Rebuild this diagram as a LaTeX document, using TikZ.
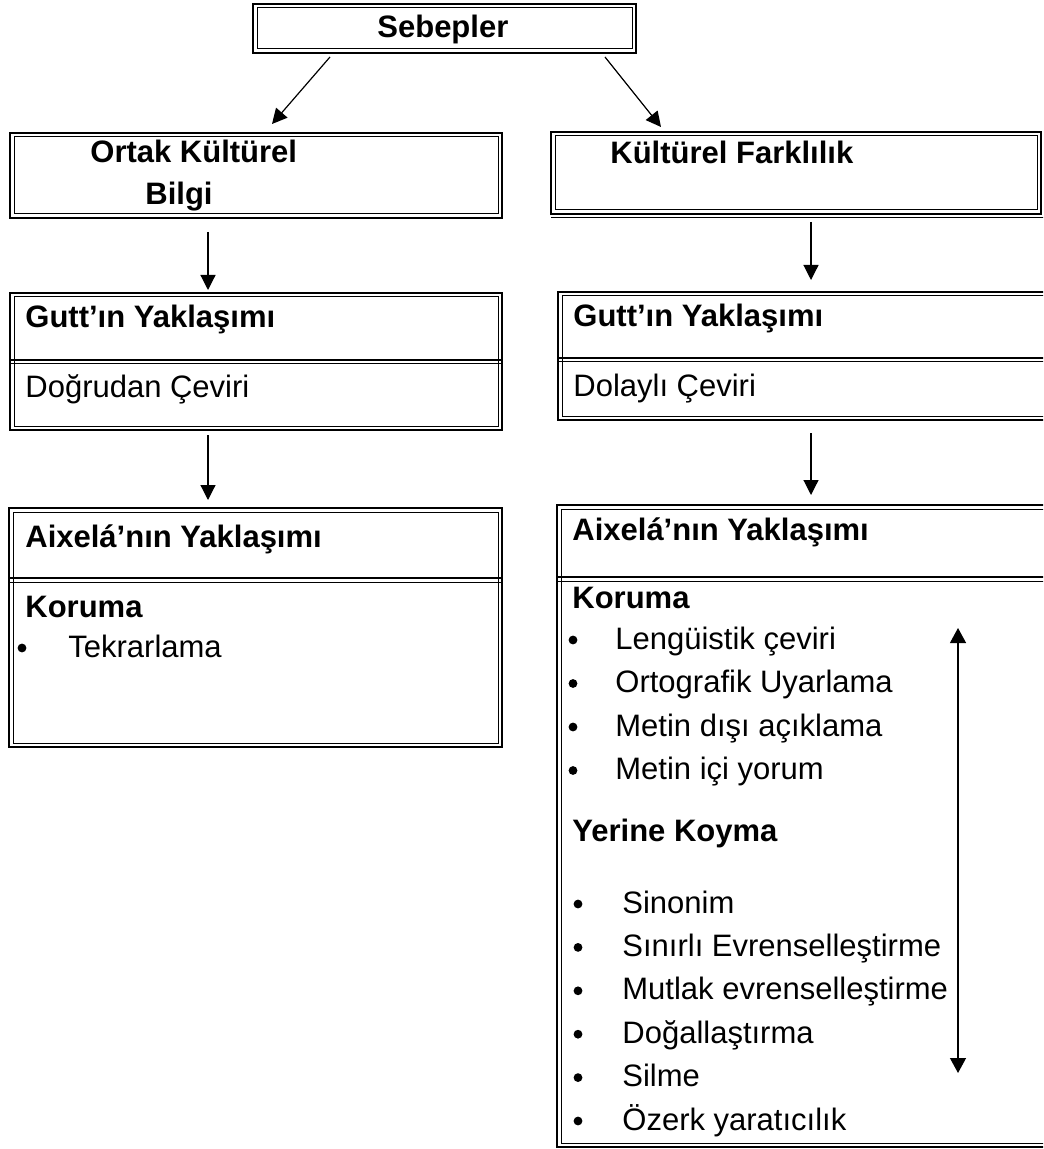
\documentclass[tikz,border=0pt]{standalone}
\usepackage{fontspec}
\setmainfont{Liberation Sans}
\usetikzlibrary{arrows.meta,fit}

\begin{document}
\begin{tikzpicture}[
  x=0.5pt, y=-0.5pt,
  frame/.style={draw, line width=1.2pt, inner sep=0pt, outer sep=0pt},
  thinrule/.style={line width=.5pt},
  head/.style={anchor=base west, inner sep=0pt, font=\fontsize{15.5}{18}\selectfont\bfseries},
  item/.style={anchor=base west, inner sep=0pt, font=\fontsize{15.5}{18}\selectfont},
  dot/.style={circle, fill, inner sep=0pt, minimum size=4.4pt},
  arrow/.style={-{Triangle[length=7.5pt, width=7.5pt]}, line width=.6pt},
  twoway/.style={{Triangle[length=7.5pt, width=8pt]}-{Triangle[length=7.5pt, width=8pt]}, line width=.6pt},
]
  \clip (0,0) rectangle (1043,1149);

  % boxes
  \node[frame, fit={(253,4) (636,53)}] (seb) {};
  \node[frame, fit={(10,133) (502,218)}] (ortak) {};
  \node[frame, fit={(551,132) (1041,214)}] (fark) {};
  \node[frame, fit={(10,293) (502,430)}] (guttL) {};
  \node[frame, fit={(558,292) (1052,420)}] (guttR) {};
  \node[frame, fit={(9,508) (502,747)}] (aixL) {};
  \node[frame, fit={(557,505) (1052,1147)}] (aixR) {};

  \foreach \n in {seb,ortak,fark,guttL,guttR,aixL,aixR}
    \draw[thinrule] ([shift={(2pt,-2pt)}]\n.north west) rectangle ([shift={(-2pt,2pt)}]\n.south east);
  \draw[thinrule] ([yshift=-2pt]fark.south west) -- ([shift={(5pt,-2pt)}]fark.south east);

  % dividers
  \foreach \n/\ya/\yb in {guttL/360/364, guttR/358/362, aixL/578/582, aixR/577/581} {
    \draw[line width=1.2pt] (\n.west |- 0,\ya) -- (\n.east |- 0,\ya);
    \draw[thinrule] (\n.west |- 0,\yb) -- (\n.east |- 0,\yb);
  }

  % texts
  \node[head] (sebT) at (377,38) {Sebepler};
  \node[head] (ortakT) at (90,163) {Ortak Kültürel};
  \node[head] (ortakB) at (145,205) {Bilgi};
  \node[head] (farkT) at (610,164) {Kültürel Farklılık};
  \node[head] (guttLT) at (25,328) {Gutt’ın Yaklaşımı};
  \node[item] (guttLB) at (25,398) {Doğrudan Çeviri};
  \node[head] (guttRT) at (573,327) {Gutt’ın Yaklaşımı};
  \node[item] (guttRB) at (573,397) {Dolaylı Çeviri};
  \node[head] (aixLT) at (25,547) {Aixelá’nın Yaklaşımı};
  \node[head] (korL) at (25,617) {Koruma};
  \node[dot] (tekB) at (22,648) {};
  \node[item] (tek) at (68,657) {Tekrarlama};
  \node[head] (aixRT) at (572,540) {Aixelá’nın Yaklaşımı};
  \node[head] (korR) at (572,608) {Koruma};
  \node[head] (yer) at (572,841) {Yerine Koyma};

  \foreach \t [count=\i] in {Lengüistik çeviri, Ortografik Uyarlama, Metin dışı açıklama, Metin içi yorum} {
    \node[item] (kor\i) at (615,{649+43.5*(\i-1)}) {\t};
    \node[dot] (korb\i) at (573,{640+43.5*(\i-1)}) {};
  }
  \foreach \t [count=\i] in {Sinonim, Sınırlı Evrenselleştirme, Mutlak evrenselleştirme, Doğallaştırma, Silme, Özerk yaratıcılık} {
    \node[item] (yer\i) at (622,{913+43.4*(\i-1)}) {\t};
    \node[dot] (yerb\i) at (578,{904+43.4*(\i-1)}) {};
  }

  % arrows
  \draw[arrow] ([xshift=-57.25pt,yshift=-2pt]seb.south) -- ([xshift=8pt,yshift=4.5pt]ortak.north);
  \draw[arrow] ([xshift=80.25pt,yshift=-2pt]seb.south) -- ([xshift=-67.5pt,yshift=2.5pt]fark.north);
  \draw[arrow] ([xshift=-24pt,yshift=-7pt]ortak.south) -- ([xshift=-24pt,yshift=1.5pt]guttL.north);
  \draw[arrow] ([xshift=7.5pt,yshift=-4pt]fark.south) -- ([xshift=3pt,yshift=6pt]guttR.north);
  \draw[arrow] ([xshift=-24pt,yshift=-2.5pt]guttL.south) -- ([xshift=-23.75pt,yshift=4pt]aixL.north);
  \draw[arrow] ([xshift=3pt,yshift=-6.5pt]guttR.south) -- ([xshift=3.25pt,yshift=5pt]aixR.north);

  \coordinate (spanTop) at (958,628);
  \coordinate (spanBot) at (958,1073);
  \draw[twoway] (spanTop) -- (spanBot);
\end{tikzpicture}
\end{document}
